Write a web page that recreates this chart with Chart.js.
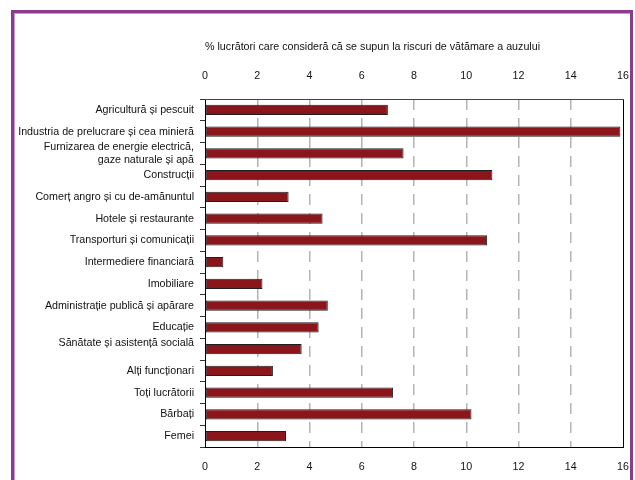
<!DOCTYPE html>
<html>
<head>
<meta charset="utf-8">
<script src="https://cdn.jsdelivr.net/npm/chart.js@4.4.1/dist/chart.umd.min.js"></script>
<style>
  html, body { margin: 0; padding: 0; background: #fff; }
  #wrap { position: relative; width: 635px; height: 480px; overflow: hidden; }
  #frame { position: absolute; left: 11px; top: 10px; width: 622px; height: 490px; box-sizing: border-box;
           border: 3px solid #8b3a8c; box-shadow: inset 1px 1px 0 #c99bc9; }
  canvas { position: absolute; left: 0; top: 0; }
</style>
</head>
<body>
<div id="wrap">
  <div id="frame"></div>
  <canvas id="c" width="635" height="480"></canvas>
</div>
<script>
const categories = [
  "Agricultură și pescuit",
  "Industria de prelucrare și cea minieră",
  ["Furnizarea de energie electrică,", "gaze naturale și apă"],
  "Construcții",
  "Comerț angro și cu de-amănuntul",
  "Hotele și restaurante",
  "Transporturi și comunicații",
  "Intermediere financiară",
  "Imobiliare",
  "Administrație publică și apărare",
  "Educație",
  ["Sănătate și asistență socială", ""],
  "Alți funcționari",
  "Toți lucrătorii",
  "Bărbați",
  "Femei"
];
const values = [7.0, 15.9, 7.6, 11.0, 3.2, 4.5, 10.8, 0.7, 2.2, 4.7, 4.35, 3.7, 2.6, 7.2, 10.2, 3.1];
const xTicks = [0, 2, 4, 6, 8, 10, 12, 14, 16];
const axisTitle = "% lucrători care consideră că se supun la riscuri de vătămare a auzului";

const FONT = "'Liberation Sans', Arial, sans-serif";
const FS = 10.7;
Chart.defaults.font.family = FONT;
Chart.defaults.font.size = FS;
Chart.defaults.color = '#111';

const xMin = xTicks[0], xMax = xTicks[xTicks.length - 1], xStep = xTicks[1] - xTicks[0];

new Chart(document.getElementById('c'), {
  type: 'bar',
  data: {
    labels: categories,
    datasets: [{
      data: values,
      backgroundColor: '#8a161b',
      borderColor: '#1e1e1e',
      borderWidth: 1,
      borderSkipped: false,
      categoryPercentage: 1,
      barPercentage: 0.46
    }]
  },
  options: {
    indexAxis: 'y',
    responsive: false,
    animation: false,
    layout: { padding: { left: 17, right: 12, top: 0, bottom: 0 } },
    plugins: { legend: { display: false }, tooltip: { enabled: false }, title: { display: false } },
    scales: {
      y: {
        type: 'category',
        position: 'left',
        afterFit: (s) => { s.width = 188; },
        grid: { offset: true, drawOnChartArea: false, drawTicks: true, tickLength: 5, tickColor: '#333', tickWidth: 1 },
        border: { display: true, color: '#000', width: 1 },
        ticks: { padding: 6, color: '#111', autoSkip: false, font: { size: FS } }
      },
      y2: {
        type: 'category',
        position: 'right',
        labels: categories,
        afterFit: (s) => { s.width = 0; },
        grid: { display: false, drawTicks: false },
        border: { display: true, color: '#000', width: 1 },
        ticks: { display: false }
      },
      x: {
        type: 'linear',
        position: 'bottom',
        min: xMin, max: xMax,
        afterFit: (s) => { s.height = 33; s.paddingLeft = 0; s.paddingRight = 0; },
        ticks: { stepSize: xStep, padding: 14, color: '#111', font: { size: FS } },
        grid: {
          drawTicks: false,
          lineWidth: 1.5,
          color: (ctx) => (ctx.tick && (ctx.tick.value === xMin || ctx.tick.value === xMax)) ? 'rgba(0,0,0,0)' : '#b4b4b4'
        },
        border: { display: true, color: '#000', width: 1, dash: [11, 8] }
      },
      x2: {
        type: 'linear',
        position: 'top',
        min: xMin, max: xMax,
        afterFit: (s) => { s.height = 99; s.paddingLeft = 0; s.paddingRight = 0; },
        ticks: { stepSize: xStep, padding: 17, color: '#111', font: { size: FS } },
        grid: { display: false, drawTicks: false },
        border: { display: true, color: '#444', width: 1 },
        title: { display: true, text: axisTitle, align: 'start', color: '#111', font: { size: FS }, padding: { top: 41, bottom: 0 } }
      }
    }
  }
});
</script>
</body>
</html>
